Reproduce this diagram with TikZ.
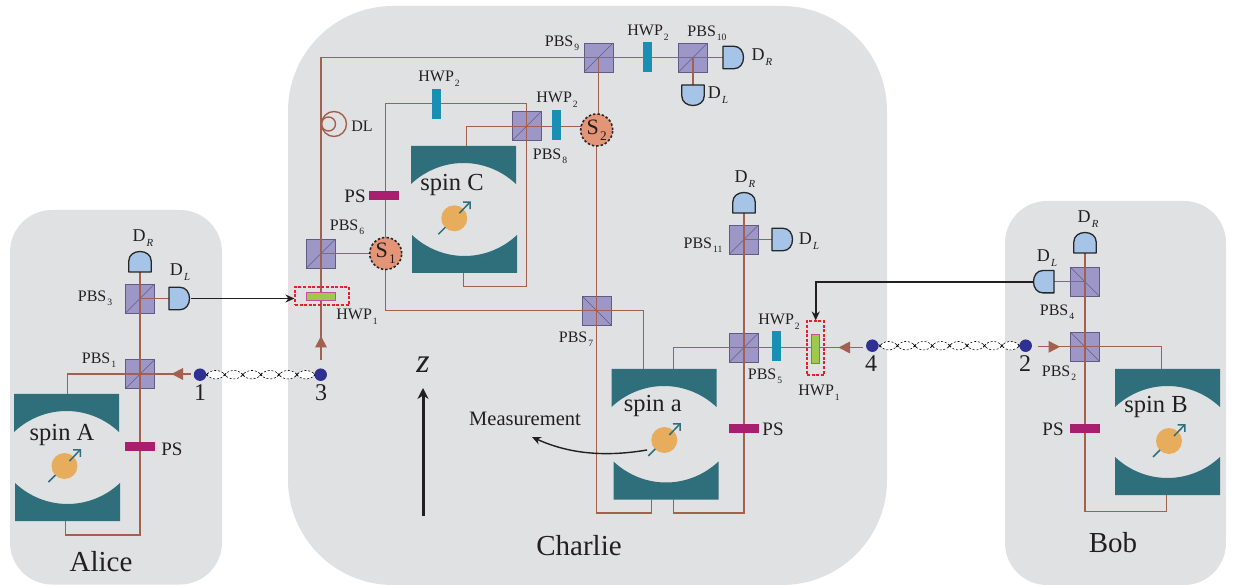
\documentclass[tikz,border=0pt]{standalone}
\usepackage{fontspec}
\setmainfont{Liberation Serif}
\usetikzlibrary{arrows.meta}
\definecolor{panel}{HTML}{E0E1E3}
\definecolor{ray}{HTML}{A4604F}
\definecolor{cavc}{HTML}{2F6F7C}
\definecolor{spinc}{HTML}{E8AD5C}
\definecolor{pbsc}{HTML}{9D97C8}
\definecolor{pbsd}{HTML}{5F5B82}
\definecolor{psc}{HTML}{A81F70}
\definecolor{hwpc}{HTML}{1A8FB4}
\definecolor{greenc}{HTML}{A0C84A}
\definecolor{detc}{HTML}{A5C4E8}
\definecolor{sc}{HTML}{E49577}
\definecolor{dotc}{HTML}{2E3192}
\definecolor{textc}{HTML}{231F20}
\definecolor{redc}{HTML}{E3202E}
\definecolor{pinkc}{HTML}{C2509A}
\newcommand{\fs}[1]{\fontsize{#1}{#1}\selectfont}
\newcommand{\lsub}[1]{\hspace{.06em}\raisebox{-0.28em}{\scalebox{.6}{#1}}}
\tikzset{
  panelbox/.style={fill=panel,draw=none},
  rayline/.style={draw=ray,line width=1.4pt},
  sigline/.style={draw=textc,line width=1.8pt,-{Stealth[length=9pt,width=8pt]}},
  pbsbox/.style={rectangle,minimum size=29pt,inner sep=0pt,fill=pbsc,draw=pbsd,line width=.7pt},
  pbsf/.style={pbsbox,path picture={\draw[pbsd,line width=.6pt] (path picture bounding box.south west) -- (path picture bounding box.north east);}},
  pbsb/.style={pbsbox,path picture={\draw[pbsd,line width=.6pt] (path picture bounding box.north west) -- (path picture bounding box.south east);}},
  psbox/.style={rectangle,minimum width=30pt,minimum height=9pt,inner sep=0pt,fill=psc},
  hwpv/.style={rectangle,minimum width=9pt,minimum height=30pt,inner sep=0pt,fill=hwpc},
  greenh/.style={rectangle,minimum width=29pt,minimum height=8pt,inner sep=0pt,fill=greenc,draw=pinkc,line width=.8pt},
  greenv/.style={rectangle,minimum width=8pt,minimum height=29pt,inner sep=0pt,fill=greenc,draw=pinkc,line width=.8pt},
  redbox/.style={rectangle,inner sep=0pt,draw=redc,dash pattern=on 3pt off 1.6pt,line width=1.1pt},
  sbox/.style={circle,minimum size=32pt,inner sep=0pt,fill=sc,draw=black!85,dash pattern=on 2.4pt off 2pt,line width=1.6pt,text=textc,font=\fs{22}},
  dotn/.style={circle,minimum size=12.5pt,inner sep=0pt,fill=dotc},
  lab/.style={inner sep=0pt,text=textc,font=\fs{16}},
  lps/.style={inner sep=0pt,text=textc,font=\fs{19}},
  ldet/.style={inner sep=0pt,text=textc,font=\fs{18}},
  lnum/.style={inner sep=0pt,text=textc,font=\fs{24}},
  lname/.style={inner sep=0pt,text=textc,font=\fs{29}},
  lspin/.style={inner sep=0pt,text=textc,font=\fs{24.5}},
  entline/.style={fill=white,draw=black,line width=.55pt,dash pattern=on 2pt off 1.8pt},
  det/.pic={\draw[fill=detc,draw=black!85,line width=1.3pt,line join=round] (-11.2,0) -- (11.2,0) -- (11.2,-11) .. controls (11.2,-17) and (6,-20.5) .. (0,-20.5) .. controls (-6,-20.5) and (-11.2,-17) .. (-11.2,-11) -- cycle;},
  tri/.pic={\fill[ray] (0,-6.5) -- (-6,5) -- (6,5) -- cycle;}
}
% cavity: x0 y0 | bottom dx dy | circle cx cy | name
\newcommand{\cavity}[7]{%
  \begin{scope}[shift={(#1,#2)}]
  \fill[cavc] (0,0) -- (105,0) -- (105,38) .. controls (75,10) and (30,10) .. (0,38) -- cycle;
  \fill[cavc] (#3,#4) .. controls (#3+30,#4+28) and (#3+75,#4+28) .. (#3+105,#4) -- (#3+105,#4+38) -- (#3,#4+38) -- cycle;
  \end{scope}
  \node[circle,minimum size=26pt,inner sep=0pt,fill=spinc] (#7) at (#5,#6) {};
  \draw[cavc,line width=1.5pt,-{Straight Barb[length=5pt,width=10pt]}] (#5+5,#6-5) -- (#5+16.5,#6-17);
  \draw[cavc,line width=1.5pt] (#5-16,#6+16) -- (#5-9,#6+9);
}
\newcommand{\entangle}[4]{%
  \draw[entline] plot[domain=0:1,samples=121] ({#1+\x*(#2-#1)},{#3+4.2*pow(abs(sin(\x*#4*180))+0.001,0.7)}) -- plot[domain=1:0,samples=121] ({#1+\x*(#2-#1)},{#3-4.2*pow(abs(sin(\x*#4*180))+0.001,0.7)}) -- cycle;
  \foreach \k in {0,...,#4}{%
    \draw[black,line width=.6pt] ({#1+\k*(#2-#1)/#4-1.4},#3-1.4) -- ++(2.8,2.8) ({#1+\k*(#2-#1)/#4-1.4},#3+1.4) -- ++(2.8,-2.8);
  }
}
\begin{document}
\begin{tikzpicture}[x=1pt,y=-1pt]
\useasboundingbox (0,0) rectangle (1235,585);
% panels
\path[panelbox,rounded corners=42pt] (10,210) rectangle (222,584.5);
\path[panelbox,rounded corners=105pt] (288,6) rectangle (887,585);
\path[panelbox,rounded corners=42pt] (1005,201) rectangle (1226,585);
% beam splitters
\node[pbsf] (pbsa3) at (140,298.5) {};
\node[pbsf] (pbsa1) at (140.3,374) {};
\node[pbsb] (pbsb4) at (1085,281.7) {};
\node[pbsb] (pbsb2) at (1085,346.8) {};
\node[pbsf] (pbs6) at (321,253.5) {};
\node[pbsb] (pbs7) at (596.5,310.5) {};
\node[pbsf] (pbs8) at (526.5,126.3) {};
\node[pbsf] (pbs9) at (598.5,57.5) {};
\node[pbsf] (pbs10) at (693,57.5) {};
\node[pbsf] (pbs11) at (744,239.5) {};
\node[pbsf] (pbs5) at (744,347.5) {};
% cavities
\cavity{14}{394}{1}{89}{64.5}{466}{spA}
\cavity{411}{146}{1}{89}{454.3}{218.3}{spC}
\cavity{611.5}{369}{2}{92.5}{664.3}{440}{spa}
\cavity{1115}{369}{0}{88}{1169}{441}{spB}
\node[lspin] (tA) at (62,435) {spin A};
\node[lspin] (tC) at (452,185) {spin C};
\node[lspin] (ta) at (652.7,406) {spin a};
\node[lspin] (tB) at (1156,407) {spin B};
% named way points
\coordinate (dRa) at (140,272);
\coordinate (dLa) at (169,298.5);
\coordinate (a1) at (191,374);
\coordinate (aB1) at (140,535);
\coordinate (aB2) at (65.7,535);
\coordinate (aB3) at (65.7,521);
\coordinate (aT1) at (67.3,374);
\coordinate (aT2) at (67.3,394);
\coordinate (c3) at (321,360);
\coordinate (cTL) at (321,57.5);
\coordinate (dRt) at (723,57.5);
\coordinate (dLt) at (693,85);
\coordinate (s1c) at (385.7,253.5);
\coordinate (s2c) at (596.7,130);
\coordinate (cC1) at (385.7,103.7);
\coordinate (cC2) at (526.7,103.7);
\coordinate (cC3) at (526.7,286.7);
\coordinate (cC4) at (463.7,286.7);
\coordinate (cC5) at (463.7,272.7);
\coordinate (cD1) at (466.7,126.3);
\coordinate (cD2) at (466.7,146);
\coordinate (cE1) at (596.7,513);
\coordinate (cE2) at (651.7,513);
\coordinate (cE3) at (651.7,499);
\coordinate (cF1) at (385.7,310.5);
\coordinate (cF2) at (643.3,310.5);
\coordinate (cF3) at (643.3,369);
\coordinate (cG1) at (744,513);
\coordinate (cG2) at (673.7,513);
\coordinate (cG3) at (673.7,499);
\coordinate (cH1) at (673.7,347.5);
\coordinate (cH2) at (673.7,369);
\coordinate (c4) at (862.7,347.5);
\coordinate (dRc) at (744,213);
\coordinate (dLc) at (772,239.5);
\coordinate (dRb) at (1085,253);
\coordinate (dLb) at (1054,281.7);
\coordinate (b2) at (1038,346.8);
\coordinate (bA1) at (1161.3,346.8);
\coordinate (bA2) at (1161.3,369);
\coordinate (bB1) at (1085,511.7);
\coordinate (bB2) at (1166.7,511.7);
\coordinate (bB3) at (1166.7,495);
\coordinate (sigc) at (815.7,282);
\coordinate (dLbt) at (1034,282);
\coordinate (dLat) at (191,298.5);
\coordinate (mS) at (647,450);
\coordinate (mE) at (532,437);
% rays
\draw[rayline] (dRa) -- (pbsa3.center) -- (aB1) -- (aB2) -- (aB3);
\draw[rayline] (pbsa3.center) -- (dLa);
\draw[rayline] (a1) -- (aT1) -- (aT2);
\draw[rayline] (c3) -- (cTL) -- (dRt);
\draw[rayline] (pbs6.center) -- (s1c);
\draw[rayline] (s1c) -- (cC1) -- (cC2) -- (cC3) -- (cC4) -- (cC5);
\draw[rayline] (s1c) -- (cF1) -- (cF2) -- (cF3);
\draw[rayline] (cD2) -- (cD1) -- (s2c |- cD1);
\draw[rayline] (pbs9.center) -- (pbs9.center |- s2c);
\draw[rayline] (s2c) -- (cE1) -- (cE2) -- (cE3);
\draw[rayline] (pbs10.center) -- (dLt);
\draw[rayline] (dRc) -- (cG1) -- (cG2) -- (cG3);
\draw[rayline] (pbs11.center) -- (dLc);
\draw[rayline] (cH2) -- (cH1) -- (c4);
\draw[rayline] (dRb) -- (bB1) -- (bB2) -- (bB3);
\draw[rayline] (pbsb4.center) -- (dLb);
\draw[rayline] (b2) -- (bA1) -- (bA2);
% delay line
\node[circle,minimum size=25pt,inner sep=0pt,draw=ray,line width=1.4pt] (dl1) at (334,124) {};
\node[circle,minimum size=14pt,inner sep=0pt,draw=ray,line width=1.4pt] (dl2) at (328.5,124) {};
% switches
\node[sbox] (s1) at (s1c) {S\lsub{1}};
\node[sbox] (s2) at (s2c) {S\lsub{2}};
% plates
\node[psbox] (psa) at (140,446.5) {};
\node[psbox] (psc1) at (384,195.5) {};
\node[psbox] (psm) at (743.5,428.5) {};
\node[psbox] (psb) at (1084.5,428.5) {};
\node[hwpv] (h1) at (436.5,104) {};
\node[hwpv] (h2) at (556.5,125) {};
\node[hwpv] (h3) at (647.5,57) {};
\node[hwpv] (h4) at (776,346.5) {};
\node[redbox,minimum width=54pt,minimum height=18pt] (hbL) at (322,296) {};
\node[greenh] (gL) at (320.5,296) {};
\node[redbox,minimum width=17pt,minimum height=54pt] (hbR) at (815.5,348) {};
\node[greenv] (gR) at (815.5,348.5) {};
% arrow heads on rays
\path (178,374) pic[rotate=90]{tri};
\path (321,342.5) pic{tri};
\path (845,347.5) pic[rotate=90]{tri};
\path (1053.5,346.8) pic[rotate=-90]{tri};
% detectors
\path (dRa) pic{det};
\path (dLa) pic[rotate=-90]{det};
\path (dRc) pic{det};
\path (dLc) pic[rotate=-90]{det};
\path (dRt) pic[rotate=-90]{det};
\path (dLt) pic[rotate=180]{det};
\path (dRb) pic{det};
\path (dLb) pic[rotate=90]{det};
% classical signals
\draw[sigline] (dLat) -- (hbL.west |- dLat);
\draw[sigline] (dLbt) -- (sigc) -- (sigc |- hbR.north);
\draw[draw=textc,line width=1.4pt,-{Stealth[length=9pt,width=8pt]}] (mS) .. controls (600,458) and (565,452) .. (mE);
\node[inner sep=0pt,text=textc,font=\fs{20.5}] (meas) at (525,419) {Measurement};
\coordinate (zb) at (423,516);
\coordinate (zt) at (423,388);
\draw[draw=textc,line width=3pt,-{Stealth[length=11pt,width=11pt]}] (zb) -- (zt);
\node[inner sep=0pt,text=textc,font=\fs{34}\itshape] (zl) at (423,365) {z};
% entangled pairs
\entangle{206.7}{315}{374.7}{6}
\entangle{880}{1019.3}{345.7}{8}
\node[dotn] (n1) at (200,374.7) {};
\node[dotn] (n3) at (320.7,374.7) {};
\node[dotn] (n4) at (872.3,345.7) {};
\node[dotn] (n2) at (1025.7,345.7) {};
\node[lnum] (t1) at (200,392.5) {1};
\node[lnum] (t3) at (321,392.5) {3};
\node[lnum] (t4) at (871,364) {4};
\node[lnum] (t2) at (1025,364) {2};
% labels
\node[lab] (l1) at (99,360) {PBS\lsub{1}};
\node[lab] (l2) at (95,298) {PBS\lsub{3}};
\node[lab] (l3) at (1057,312) {PBS\lsub{4}};
\node[lab] (l4) at (1059,373) {PBS\lsub{2}};
\node[lab] (l5) at (347,227) {PBS\lsub{6}};
\node[lab] (l6) at (576,339) {PBS\lsub{7}};
\node[lab] (l7) at (550,156) {PBS\lsub{8}};
\node[lab] (l8) at (562,43) {PBS\lsub{9}};
\node[lab] (l9) at (707,33) {PBS\lsub{10}};
\node[lab] (l10) at (703,245) {PBS\lsub{11}};
\node[lab] (l11) at (765,376) {PBS\lsub{5}};
\node[lab] (l12) at (439,79) {HWP\lsub{2}};
\node[lab] (l13) at (557,100) {HWP\lsub{2}};
\node[lab] (l14) at (648,33) {HWP\lsub{2}};
\node[lab] (l15) at (779,322) {HWP\lsub{2}};
\node[lab] (l16) at (357,317) {HWP\lsub{1}};
\node[lab] (l17) at (819,393) {HWP\lsub{1}};
\node[lab] (l18) at (362,126) {DL};
\node[lps] (p1) at (172,449) {PS};
\node[lps] (p2) at (355,196) {PS};
\node[lps] (p3) at (773,429) {PS};
\node[lps] (p4) at (1053,429) {PS};
\node[ldet] (d1) at (143,238) {D\lsub{\textit{R}}};
\node[ldet] (d2) at (180,272) {D\lsub{\textit{L}}};
\node[ldet] (d3) at (745,179) {D\lsub{\textit{R}}};
\node[ldet] (d4) at (809,241) {D\lsub{\textit{L}}};
\node[ldet] (d5) at (762,57) {D\lsub{\textit{R}}};
\node[ldet] (d6) at (718,95) {D\lsub{\textit{L}}};
\node[ldet] (d7) at (1088,219) {D\lsub{\textit{R}}};
\node[ldet] (d8) at (1047,258) {D\lsub{\textit{L}}};
\node[lname] (nA) at (101,562) {Alice};
\node[lname] (nC) at (579,546) {Charlie};
\node[lname] (nB) at (1113,543) {Bob};
\end{tikzpicture}
\end{document}
